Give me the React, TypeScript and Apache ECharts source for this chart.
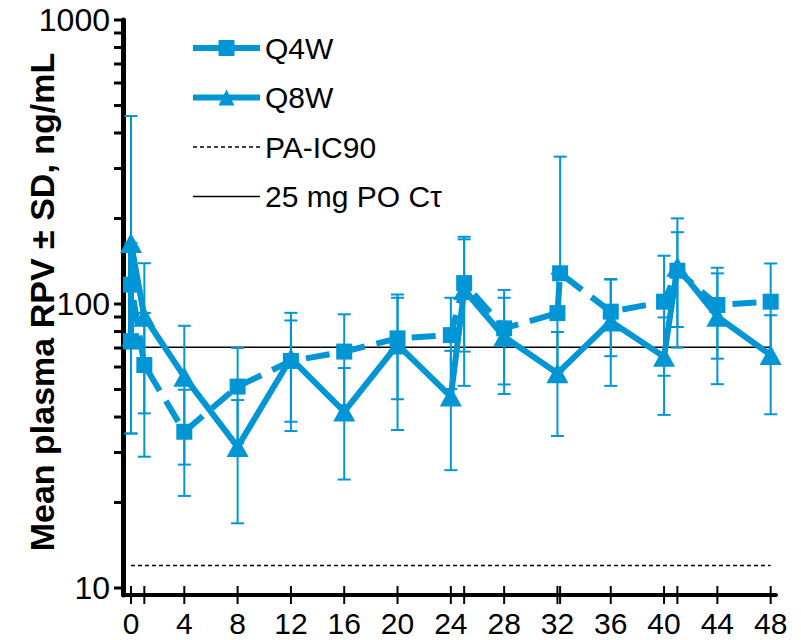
import React, { useEffect, useRef } from "react";
import * as echarts from "echarts";

// ---- data ----
const q4wWeeks = [0, 0, 1, 4, 8, 12, 16, 20, 24, 25, 28, 32, 32.2, 36, 40, 41, 44, 48];
const q4wMean = [74, 117, 61, 35.5, 51.2, 63, 68, 75.7, 77.7, 118.5, 82.1, 92.9, 128.3, 94, 101.9, 131, 99.2, 101.9];
const q4wSD = [39, 47, 32, 14.4, 18.8, 24.5, 24, 29.5, 27.5, 50.5, 30, 35, 202, 28.5, 46, 48, 35, 37];

const q8wWeeks = [0, 0, 1, 4, 8, 12, 16, 20, 24, 25, 28, 32, 36, 40, 41, 44, 48];
const q8wMean = [75, 164, 90.2, 55.5, 31.4, 64.4, 41.8, 72, 47.2, 112, 76.7, 57, 86.7, 65.2, 135.2, 90.2, 66.1];
const q8wSD = [40, 295, 49, 28.3, 14.5, 28.7, 17.7, 36, 21.2, 60.5, 28.5, 22.7, 35.2, 24.5, 65, 38, 25.2];

const paIC90 = 12;
const poCtau = 70.4;
const refStartWeek = 0;
const refEndWeek = 48;

const X_MIN = -0.6;
const X_MAX = 48.4;
const Y_MIN = 9.45;
const Y_MAX = 1000;

const xLabelValues = [0, 1, 4, 8, 12, 16, 20, 24, 28, 32, 36, 40, 44, 48];
const xTickValues = [0, 1, 4, 8, 12, 16, 20, 24, 25, 28, 32, 32.2, 36, 40, 41, 44, 48];
const yLabelValues = [10, 100, 1000];
const yTickValues = [10, 20, 30, 40, 50, 60, 70, 80, 90, 100, 200, 300, 400, 500, 600, 700, 800, 900, 1000];

const BLUE = "#0096D6";
const FONT = "'Liberation Sans', Arial, sans-serif";

function zip3(a: number[], b: number[], c: number[]) {
  return a.map((v, i) => [v, b[i], c[i]]);
}

function errorBarRender(params: any, api: any) {
  const t = api.value(0);
  const m = api.value(1);
  const sd = api.value(2);
  const hi = m + sd;
  const lo = m - sd;
  const hasLo = lo > 0;
  const pTop = api.coord([t, hi]);
  const pMid = api.coord([t, m]);
  const pBot = hasLo ? api.coord([t, lo]) : pMid;
  const half = 6.5;
  const st = { stroke: BLUE, lineWidth: 2 };
  const children: any[] = [
    { type: "line", shape: { x1: pTop[0], y1: pTop[1], x2: pBot[0], y2: pBot[1] }, style: st },
    { type: "line", shape: { x1: pTop[0] - half, y1: pTop[1], x2: pTop[0] + half, y2: pTop[1] }, style: st },
  ];
  if (hasLo) {
    children.push({ type: "line", shape: { x1: pBot[0] - half, y1: pBot[1], x2: pBot[0] + half, y2: pBot[1] }, style: st });
  }
  return { type: "group", children };
}

function yTickRender(params: any, api: any) {
  const p = api.coord([api.value(0), api.value(1)]);
  return {
    type: "line",
    shape: { x1: p[0] - 9, y1: p[1], x2: p[0], y2: p[1] },
    style: { stroke: "#000", lineWidth: 3 },
  };
}

function xTickRender(params: any, api: any) {
  const p = api.coord([api.value(0), api.value(1)]);
  return {
    type: "line",
    shape: { x1: p[0], y1: p[1] - 9, x2: p[0], y2: p[1] + 9 },
    style: { stroke: "#000", lineWidth: 2 },
  };
}

export default function App() {
  const ref = useRef<HTMLDivElement>(null);

  useEffect(() => {
    if (!ref.current) return;
    const chart = echarts.init(ref.current, null, { renderer: "svg" });

    chart.setOption({
      animation: false,
      backgroundColor: "#fff",
      grid: { left: 123, right: 25, top: 20, bottom: 45, containLabel: false },
      legend: {
        orient: "vertical",
        left: 185,
        top: 28,
        itemWidth: 67,
        itemHeight: 20,
        itemGap: 19.5,
        data: [
          { name: "Q4W", lineStyle: { width: 6, type: "solid" } },
          { name: "Q8W", lineStyle: { width: 6, type: "solid" } },
          { name: "PA-IC90", itemStyle: { opacity: 0 }, lineStyle: { width: 1.5, type: [4, 3] } },
          { name: "25 mg PO Cτ", itemStyle: { opacity: 0 }, lineStyle: { width: 1.5 } },
        ],
        textStyle: { fontSize: 30, fontFamily: FONT, color: "#000" },
      },
      xAxis: {
        type: "value",
        min: X_MIN,
        max: X_MAX,
        splitLine: { show: false },
        axisLine: { show: true, onZero: false, lineStyle: { color: "#000", width: 4 } },
        axisTick: { show: false },
        axisLabel: {
          customValues: xLabelValues,
          fontSize: 30,
          fontFamily: FONT,
          color: "#000",
          margin: 13,
          hideOverlap: false,
          showMinLabel: true,
          showMaxLabel: true,
          formatter: (v: number) => String(v),
        },
      },
      yAxis: {
        type: "log",
        logBase: 10,
        min: Y_MIN,
        max: Y_MAX,
        splitLine: { show: false },
        axisLine: { show: true, onZero: false, lineStyle: { color: "#000", width: 5 } },
        axisTick: { show: false },
        axisLabel: {
          customValues: yLabelValues,
          fontSize: 32,
          fontFamily: FONT,
          color: "#000",
          margin: 13,
          formatter: (v: number) => String(Math.round(v)),
        },
      },
      graphic: [
        {
          id: "ytitle",
          type: "text",
          x: 42,
          y: 302,
          rotation: Math.PI / 2,
          style: {
            text: "Mean plasma RPV ± SD, ng/mL",
            font: `bold 34px ${FONT}`,
            fill: "#000",
            textAlign: "center",
            textVerticalAlign: "middle",
          },
        },
      ],
      series: [
        {
          name: "yTicks",
          type: "custom",
          renderItem: yTickRender,
          data: yTickValues.map((v) => [X_MIN, v]),
          encode: { x: 0, y: 1 },
          clip: false,
          silent: true,
          z: 5,
        },
        {
          name: "xTicks",
          type: "custom",
          renderItem: xTickRender,
          data: xTickValues.map((t) => [t, Y_MIN]),
          encode: { x: 0, y: 1 },
          clip: false,
          silent: true,
          z: 5,
        },
        {
          name: "PA-IC90",
          type: "line",
          data: [[refStartWeek, paIC90], [refEndWeek, paIC90]],
          symbol: "none",
          lineStyle: { color: "#000", width: 1.5, type: [4, 3] },
          itemStyle: { color: "#000" },
          z: 1,
        },
        {
          name: "25 mg PO Cτ",
          type: "line",
          data: [[refStartWeek, poCtau], [refEndWeek, poCtau]],
          symbol: "none",
          lineStyle: { color: "#000", width: 1.5 },
          itemStyle: { color: "#000" },
          z: 1,
        },
        {
          name: "Q8W SD",
          type: "custom",
          renderItem: errorBarRender,
          data: zip3(q8wWeeks, q8wMean, q8wSD),
          encode: { x: 0, y: 1 },
          z: 2,
        },
        {
          name: "Q4W SD",
          type: "custom",
          renderItem: errorBarRender,
          data: zip3(q4wWeeks, q4wMean, q4wSD),
          encode: { x: 0, y: 1 },
          z: 2,
        },
        {
          name: "Q8W",
          type: "line",
          data: q8wWeeks.map((w, i) => [w, q8wMean[i]]),
          symbol: "triangle",
          symbolSize: [22, 20],
          lineStyle: { color: BLUE, width: 6 },
          itemStyle: { color: BLUE },
          z: 3,
        },
        {
          name: "Q4W",
          type: "line",
          data: q4wWeeks.map((w, i) => [w, q4wMean[i]]),
          symbol: "rect",
          symbolSize: 16,
          lineStyle: { color: BLUE, width: 6, type: [24, 12] },
          itemStyle: { color: BLUE },
          z: 4,
        },
      ],
    });

    return () => chart.dispose();
  }, []);

  return (
    <div
      ref={ref}
      style={{ position: "absolute", left: 0, top: 0, width: 801, height: 640, background: "#fff" }}
    />
  );
}
